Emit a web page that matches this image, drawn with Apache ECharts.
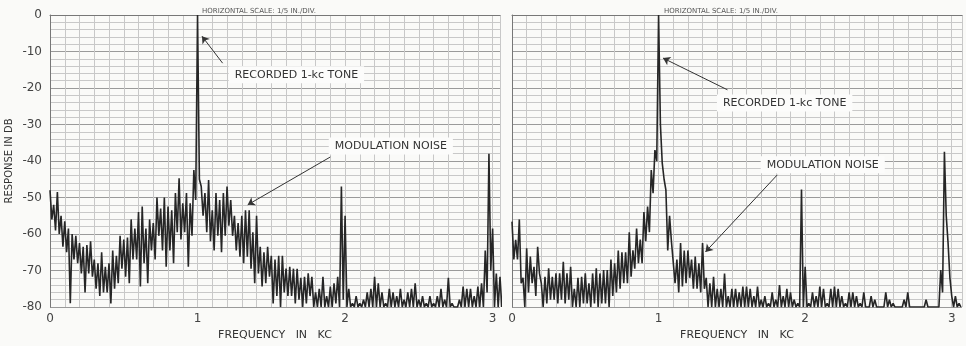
<!DOCTYPE html>
<html>
<head>
<meta charset="utf-8">
<script src="https://cdn.jsdelivr.net/npm/echarts@6/dist/echarts.min.js"></script>
<style>
  html, body { margin: 0; padding: 0; background: #fafaf8; }
  #main { width: 966px; height: 346px; }
</style>
</head>
<body>
<div id="main"></div>
<script>
// spectrum, one bin every 0.025 kc
// hi = top of the trace in the bin, lo = bottom of the trace
const STEP = 0.025;
const xTicks = [0, 1, 2, 3];
const yTicks = [0, -10, -20, -30, -40, -50, -60, -70, -80];

const leftHi = [
  -48, -52, -48.5, -55, -56.5, -58.5, -60, -60.5, -62.5, -63.5,
  -63, -62, -67, -68, -65, -69, -68, -64.5, -66, -60.5,
  -61.5, -61, -56, -58.5, -54, -52.5, -58.5, -56, -57, -50,
  -53, -50, -52.5, -53.5, -48.8, -44.7, -51.6, -48.8, -51.6, -42.5,
  0, -47, -48.8, -45.2, -53.5, -48.8, -50.7, -48.8, -47, -50.7,
  -55, -57, -55, -53.5, -53.5, -59.5, -55, -63.5, -65, -63.5,
  -66, -67, -66, -66, -69.5, -69, -69.5, -69.5, -72, -71.7,
  -70.8, -71.7, -76, -75, -71.7, -77, -74.4, -73.5, -71.7, -47,
  -55, -75, -79, -77, -79, -78, -76, -75, -71.7, -73.5,
  -76, -79, -75, -76, -77, -75, -78, -76, -75, -73.5,
  -78, -77, -79, -77, -79, -77, -75, -78, -72, -79,
  -80, -78, -74.4, -75, -75, -77, -74.4, -73.5, -64.5, -38,
  -58.5, -70.8, -71.7
];
const leftLo = [
  -56, -59, -60, -63.5, -65, -79, -67, -68, -70.8, -76,
  -70.8, -71.7, -75, -77, -76, -76, -79, -75, -73.5, -69.5,
  -71.7, -73.5, -67, -67, -74.4, -68, -73.5, -64.5, -67, -60.5,
  -64.5, -69, -64.5, -68, -59.5, -61.5, -59.5, -69, -60.5, -50.7,
  -45, -55, -59.5, -62, -64.5, -60.5, -65, -60.5, -57.7, -60.5,
  -64.5, -66.2, -68, -66.2, -69.5, -73.5, -70.8, -74.4, -73.5, -71.7,
  -79, -77, -80, -76, -77, -77, -79, -78, -80, -79,
  -77, -80, -80, -80, -80, -80, -80, -79, -80, -78,
  -80, -80, -80, -80, -80, -80, -80, -80, -80, -80,
  -80, -80, -80, -80, -80, -80, -80, -80, -80, -80,
  -80, -80, -80, -80, -80, -80, -80, -80, -80, -80,
  -80, -80, -80, -80, -80, -80, -80, -80, -76, -70,
  -80, -80, -80
];

const rightHi = [
  -56.6, -61.6, -56, -72, -63.9, -66.2, -69, -63.5, -73.5, -71.7,
  -69.4, -71.7, -70.8, -70.8, -67.6, -70.8, -69, -75, -72, -71.7,
  -70.8, -73.5, -70.8, -69.4, -70.8, -69.9, -69.9, -67, -68, -64.5,
  -65, -65, -59.5, -64.5, -58.5, -61.5, -54, -52.5, -42.5, -37,
  0, -40.6, -48, -55, -61.5, -67, -62.5, -64.5, -64.5, -67,
  -66.2, -68, -62.5, -72, -73.5, -71.7, -75, -75, -70.8, -77,
  -75, -75, -76, -74.4, -74.4, -75, -77, -74.4, -78, -77,
  -79, -76, -78, -74, -77, -75, -76, -78, -79, -47.8,
  -69, -79, -76, -77, -74.4, -75, -79, -75, -74.4, -75,
  -77, -79, -76, -76, -77, -79, -76, -80, -77, -78,
  -80, -80, -76, -78, -79, -80, -80, -78, -76, -80,
  -80, -80, -80, -78, -80, -80, -80, -69.9, -37.5, -62.5,
  -77, -77, -79
];
const rightLo = [
  -67, -67, -73.5, -80, -76, -73.5, -77, -70.8, -80, -79,
  -78, -78, -79, -78, -79, -78, -80, -80, -80, -79,
  -79, -80, -79, -80, -79, -79, -80, -77, -76, -75,
  -73.5, -73.5, -71.7, -69.5, -68, -68, -62, -59.5, -48.8, -40,
  -30, -45, -64.5, -62, -73.5, -76, -74.4, -73.5, -72, -75,
  -75, -76, -75, -80, -80, -80, -80, -80, -80, -80,
  -80, -80, -80, -80, -80, -80, -80, -80, -80, -80,
  -80, -80, -80, -80, -80, -80, -80, -80, -80, -80,
  -80, -80, -80, -80, -80, -80, -80, -80, -80, -80,
  -80, -80, -80, -80, -80, -80, -80, -80, -80, -80,
  -80, -80, -80, -80, -80, -80, -80, -80, -80, -80,
  -80, -80, -80, -80, -80, -80, -80, -76, -55, -72,
  -80, -80, -80
];

// trace goes top, bottom, top ... so it looks like the pen trace
function trace(hi, lo) {
  let pts = [];
  hi.forEach((h, i) => {
    pts.push([i * STEP, h]);
    pts.push([i * STEP + STEP / 2, lo[i]]);
  });
  return pts;
}

const ink = '#262626';
const major = '#9a9a9a';
const minor = '#c8c8c8';
const font = 'DejaVu Sans';

function xAxis(idx, max) {
  return {
    type: 'value', gridIndex: idx, min: 0, max: max, interval: 0.1,
    name: 'FREQUENCY   IN   KC', nameLocation: 'middle', nameGap: 21,
    nameTextStyle: { fontFamily: font, fontSize: 11, color: '#333' },
    axisLine: { show: true, lineStyle: { color: '#777' } },
    axisTick: { show: false },
    axisLabel: {
      margin: 6, fontFamily: font, fontSize: 12, color: '#444',
      formatter: v => {
        let k = xTicks.find(t => Math.abs(t - v) < 1e-6);
        return k === undefined ? '' : String(k);
      }
    },
    splitLine: { show: true, lineStyle: { color: minor, width: 1 } }
  };
}

function yAxis(idx, labels) {
  return {
    type: 'value', gridIndex: idx, min: -80, max: 0, interval: 10,
    name: labels ? 'RESPONSE IN DB' : '', nameLocation: 'middle', nameGap: 36,
    nameTextStyle: { fontFamily: font, fontSize: 10, color: '#333' },
    axisLine: { show: true, lineStyle: { color: '#777' } },
    axisTick: { show: false },
    axisLabel: {
      show: labels, margin: 8, fontFamily: font, fontSize: 12, color: '#444',
      formatter: v => (yTicks.indexOf(v) >= 0 ? String(v) : '')
    },
    splitLine: { show: true, lineStyle: { color: major, width: 1 } },
    minorTick: { show: false, splitNumber: 5 },
    minorSplitLine: { show: true, lineStyle: { color: minor, width: 1 } }
  };
}

function labelPoint(name, f, db) {
  return { name: name, coord: [f, db] };
}

function arrow(a, b) {
  return [{ coord: a }, { coord: b }];
}

function series(idx, data, labels, arrows) {
  return {
    type: 'line', xAxisIndex: idx, yAxisIndex: idx,
    data: data, showSymbol: false, clip: true,
    lineStyle: { color: ink, width: 1.6 },
    markLine: {
      silent: true, symbol: ['none', 'arrow'], symbolSize: 7,
      label: { show: false },
      lineStyle: { color: '#333', width: 1, type: 'solid' },
      data: arrows
    },
    markPoint: {
      silent: true, symbol: 'rect', symbolSize: 1,
      itemStyle: { color: 'rgba(0,0,0,0)' },
      label: {
        show: true, position: 'inside', formatter: '{b}',
        fontFamily: font, fontSize: 11, color: '#333',
        backgroundColor: '#fcfcfb', padding: [3, 6]
      },
      data: labels
    }
  };
}

let chart = echarts.init(document.getElementById('main'));
chart.setOption({
  backgroundColor: '#fafaf8',
  animation: false,
  title: [
    { text: 'HORIZONTAL SCALE: 1/5 IN./DIV.', left: 197, top: 3,
      textStyle: { fontFamily: font, fontSize: 7, fontWeight: 'normal', color: '#555' } },
    { text: 'HORIZONTAL SCALE: 1/5 IN./DIV.', left: 659, top: 3,
      textStyle: { fontFamily: font, fontSize: 7, fontWeight: 'normal', color: '#555' } }
  ],
  grid: [
    { left: 50, top: 15, width: 450, height: 292 },
    { left: 512, top: 15, width: 450, height: 292 }
  ],
  xAxis: [xAxis(0, 3.05), xAxis(1, 3.07)],
  yAxis: [yAxis(0, true), yAxis(1, false)],
  series: [
    series(0, trace(leftHi, leftLo),
      [labelPoint('RECORDED 1-kc TONE', 1.67, -16.4),
       labelPoint('MODULATION NOISE', 2.31, -35.9)],
      [arrow([1.17, -13.2], [1.03, -5.8]),
       arrow([1.90, -38.9], [1.34, -52])]),
    series(1, trace(rightHi, rightLo),
      [labelPoint('RECORDED 1-kc TONE', 1.86, -24.1),
       labelPoint('MODULATION NOISE', 2.12, -41)],
      [arrow([1.47, -20.5], [1.03, -11.8]),
       arrow([1.81, -43.8], [1.32, -64.9])])
  ]
});
</script>
</body>
</html>
